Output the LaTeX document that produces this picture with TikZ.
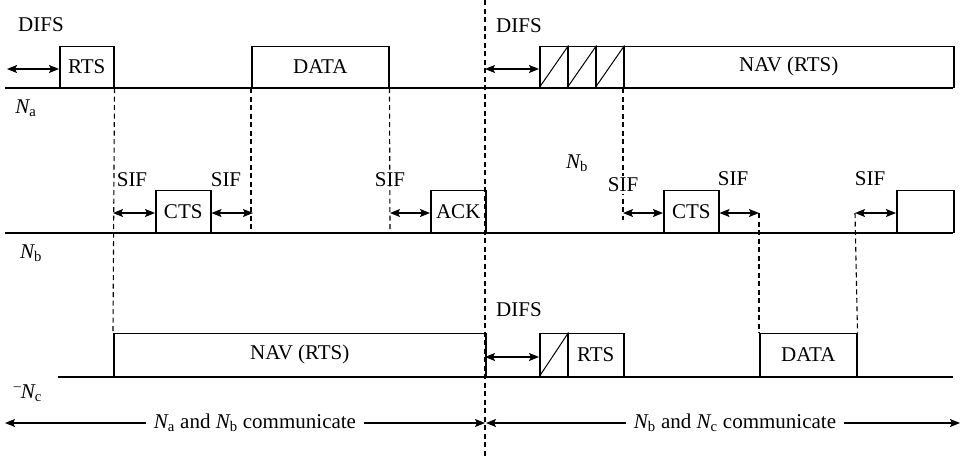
\documentclass[tikz,border=0pt]{standalone}
\usepackage{fontspec}
\setmainfont{Liberation Serif}
\usetikzlibrary{arrows.meta}
\newcommand{\Nsub}[1]{{\itshape N}\textsubscript{#1}}
\begin{document}
\begin{tikzpicture}[x=1pt,y=-1pt,
  lbl/.style={font=\fontsize{21}{25}\selectfont, inner sep=0pt},
  box/.style={draw, line width=1.5pt, inner sep=0pt, anchor=south west, font=\fontsize{21}{25}\selectfont},
  tl/.style={line width=1.5pt},
  dsh/.style={line width=1.1pt, dash pattern=on 5pt off 3.5pt},
  dim/.style={line width=1.4pt, {Stealth[length=10pt,width=8pt,inset=2pt]}-{Stealth[length=10pt,width=8pt,inset=2pt]}},
  one/.style={line width=1.4pt, -{Stealth[length=10pt,width=8pt,inset=2pt]}},
  diag/.style={line width=1pt}
]
\useasboundingbox (0,0) rectangle (961,456);

% ---------- timelines ----------
\coordinate (a0) at (5,88);   \coordinate (a1) at (953,88);
\coordinate (b0) at (5,233);  \coordinate (b1) at (953,233);
\coordinate (c0) at (58,377); \coordinate (c1) at (953,377);
\draw[tl] (a0) -- (a1);
\draw[tl] (b0) -- (b1);
\draw[tl] (c0) -- (c1);

% ---------- N_a row ----------
\node[box, minimum width=54pt, minimum height=41pt] (rtsA) at (59,88) {RTS};
\node[box, minimum width=137pt, minimum height=41pt] (dataA) at (251,88) {DATA};
\node[box, minimum width=28pt, minimum height=41pt] (hA1) at (539,88) {};
\node[box, minimum width=28pt, minimum height=41pt] (hA2) at (567,88) {};
\node[box, minimum width=28pt, minimum height=41pt] (hA3) at (595,88) {};
\node[box, minimum width=330pt, minimum height=41pt] (navA) at (623,88) {NAV (RTS)};
\draw[diag] (hA1.south west) -- (hA1.north east);
\draw[diag] (hA2.south west) -- (hA2.north east);
\draw[diag] (hA3.south west) -- (hA3.north east);

\node[lbl] (difsA) at (41,25) {DIFS};
\node[lbl] (difsA2) at (519,26) {DIFS};
\node[lbl] (labNa) at (26,108) {\Nsub{a}};

\coordinate (dA0) at (7,69);
\draw[dim] (dA0) -- (rtsA.west |- dA0);

% ---------- N_b row ----------
\node[box, minimum width=55pt, minimum height=42pt] (ctsB) at (155,233) {CTS};
\node[box, minimum width=55pt, minimum height=42pt] (ackB) at (430,233) {ACK};
\node[box, minimum width=55pt, minimum height=42pt] (ctsB2) at (663,233) {CTS};
\node[box, minimum width=57pt, minimum height=42pt] (emB) at (896,233) {};

\node[lbl] (labNb) at (31,253) {\Nsub{b}};
\node[lbl] (labNb2) at (577,163) {\Nsub{b}};

% ---------- N_c row ----------
\node[box, minimum width=372pt, minimum height=43pt] (navC) at (113,377) {NAV (RTS)};
\node[box, minimum width=28pt, minimum height=43pt] (hC) at (539,377) {};
\node[box, minimum width=56pt, minimum height=43pt] (rtsC) at (567,377) {RTS};
\node[box, minimum width=97pt, minimum height=43pt] (dataC) at (759,377) {DATA};
\draw[diag] (hC.south west) -- (hC.north east);

\node[lbl] (labNc) at (28,393) {\raisebox{0.35em}{\fontsize{14}{14}\selectfont –}\Nsub{c}};
\node[lbl] (difsC) at (519,310) {DIFS};

% ---------- dashed guide lines ----------
\coordinate (top) at (485,0);
\coordinate (bot) at (485,456);
\draw[dsh] (top) -- (bot);
\draw[dsh] (rtsA.south east) -- (navC.north west);
\draw[dsh] (dataA.south west) -- (dataA.south west |- b0);
\coordinate (d390b) at (390,230);
\draw[dsh] (dataA.south east) -- (d390b);
\coordinate (d623b) at (623,220);
\draw[dsh] (navA.south west) -- (d623b);
\coordinate (d759t) at (759,213);
\draw[dsh] (d759t) -- (dataC.north west);
\coordinate (d855t) at (855,213);
\draw[dsh] (d855t) -- (dataC.north east);

% ---------- SIF labels ----------
\node[lbl] (sif1) at (132,180) {SIF};
\node[lbl] (sif2) at (226,180) {SIF};
\node[lbl] (sif3) at (390,180) {SIF};
\node[lbl, fill=white, inner ysep=2pt] (sif4) at (623,185) {SIF};
\node[lbl] (sif5) at (733,179) {SIF};
\node[lbl] (sif6) at (870,179) {SIF};

% ---------- interval arrows ----------
\coordinate (dB0) at (485,69);
\draw[dim] (dB0) -- (hA1.west |- dB0);
\coordinate (s1) at (113,213);
\draw[dim] (s1) -- (ctsB.west |- s1);
\coordinate (s2) at (253,213);
\draw[dim] (ctsB.east |- s2) -- (s2);
\coordinate (s3) at (390,213);
\draw[dim] (s3) -- (ackB.west |- s3);
\coordinate (s4) at (623,213);
\draw[dim] (s4) -- (ctsB2.west |- s4);
\draw[dim] (ctsB2.east |- d759t) -- (d759t);
\draw[dim] (d855t) -- (emB.west |- d855t);
\coordinate (dC0) at (485,357);
\draw[dim] (dC0) -- (hC.west |- dC0);

% ---------- bottom spans ----------
\node[lbl, inner xsep=8pt] (commL) at (255,423) {\Nsub{a} and \Nsub{b} communicate};
\node[lbl, inner xsep=8pt] (commR) at (735,423) {\Nsub{b} and \Nsub{c} communicate};
\coordinate (L0) at (5,423);
\coordinate (L1) at (485,423);
\coordinate (R0) at (486,423);
\coordinate (R1) at (960,423);
\draw[one] (commL.west |- L0) -- (L0);
\draw[one] (commL.east |- L0) -- (L1);
\draw[one] (commR.west |- R0) -- (R0);
\draw[one] (commR.east |- R0) -- (R1);
\end{tikzpicture}
\end{document}
